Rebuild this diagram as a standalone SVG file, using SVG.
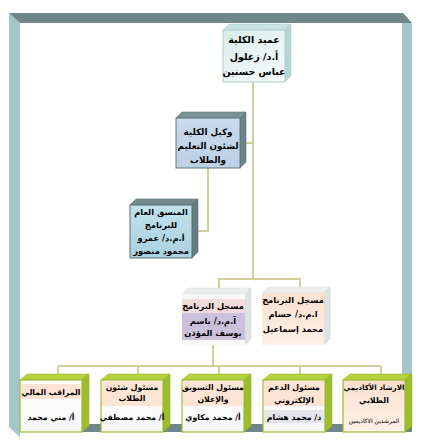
<svg xmlns="http://www.w3.org/2000/svg" width="424" height="442" viewBox="0 0 424 442">
<style>
text{font-family:"DejaVu Sans",sans-serif;font-weight:bold;fill:#000;text-anchor:middle;}
.t11{font-size:9.5px}
.t10{font-size:8.8px}
.t9{font-size:8.3px}
.t8{font-size:7.8px}
.t75{font-size:7.2px}
.t7{font-size:6px;font-weight:normal}
.con{stroke:#d3cf9c;stroke-width:2;fill:none}
.gtop{fill:#b5d23e;stroke:#9dbb2c;stroke-width:0.6}
.gside{fill:#9ebd2e;stroke:#8fae25;stroke-width:0.6}
.gfront{stroke:#9dbb2c;stroke-width:1.2}
</style>
<defs>
<linearGradient id="gDean" x1="0" y1="0" x2="1" y2="1"><stop offset="0" stop-color="#d7ecea"/><stop offset="1" stop-color="#f7fbfb"/></linearGradient>
<linearGradient id="gVice" x1="0" y1="0" x2="0" y2="1"><stop offset="0" stop-color="#c9dbed"/><stop offset="1" stop-color="#bcd0e6"/></linearGradient>
<linearGradient id="gCoord" x1="0" y1="0" x2="0" y2="1"><stop offset="0" stop-color="#c1e2ec"/><stop offset="1" stop-color="#a9d0df"/></linearGradient>
<linearGradient id="gPeach" x1="0" y1="0" x2="0" y2="1"><stop offset="0" stop-color="#fbe0cf"/><stop offset="1" stop-color="#fdf0e6"/></linearGradient>
<linearGradient id="gWhite" x1="0" y1="0" x2="0" y2="1"><stop offset="0" stop-color="#ffffff"/><stop offset="1" stop-color="#f6f6f6"/></linearGradient>
</defs>

<g id="frame">
<polygon points="9,13 20,23 20,437 9,427" fill="#a5c5cd"/>
<polygon points="402,23 412,23 412,432 402,432" fill="#a5c5cd"/>
<polygon points="20,424 412,424 412,432 20,432" fill="#6f878b"/>
<polygon points="9,13 403,13 412,23 20,23" fill="#6f878b"/>
</g>

<g id="connectors">
<line class="con" x1="253" y1="82" x2="253" y2="279"/>
<line class="con" x1="246" y1="143" x2="253" y2="143"/>
<polyline class="con" points="208,168 208,231 198,231"/>
<polyline class="con" points="219,288 219,279 300,279 300,287"/>
<line class="con" x1="213" y1="345" x2="213" y2="366"/>
<line class="con" x1="58" y1="366" x2="381" y2="366"/>
<line class="con" x1="58" y1="366" x2="58" y2="375"/>
<line class="con" x1="138" y1="366" x2="138" y2="375"/>
<line class="con" x1="219" y1="366" x2="219" y2="375"/>
<line class="con" x1="300" y1="366" x2="300" y2="375"/>
<line class="con" x1="381" y1="366" x2="381" y2="375"/>
</g>

<g id="dean">
<polygon points="223,30 229,24 291,24 285,30" fill="#c7e2df" stroke="#a9cfcb" stroke-width="0.6"/>
<polygon points="285,30 291,24 291,76 285,82" fill="#b4d5d2" stroke="#a9cfcb" stroke-width="0.6"/>
<rect x="223" y="30" width="62" height="52" fill="url(#gDean)" stroke="#a9cfcb" stroke-width="1"/>
<text class="t11" x="254" y="43">عميد الكلية</text>
<text class="t11" x="254" y="60">أ.د/ زغلول</text>
<text class="t11" x="254" y="75">عباس حسنين</text>
</g>

<g id="vicedean">
<polygon points="176,118 182,112 246,112 240,118" fill="#7a9397" stroke="#5f777b" stroke-width="0.6"/>
<polygon points="240,118 246,112 246,162 240,168" fill="#6c8488" stroke="#5f777b" stroke-width="0.6"/>
<rect x="176" y="118" width="64" height="50" fill="url(#gVice)" stroke="#5f777b" stroke-width="1"/>
<text class="t10" x="208" y="135">وكيل الكلية</text>
<text class="t10" x="208" y="149">لشئون التعليم</text>
<text class="t10" x="208" y="163">والطلاب</text>
</g>

<g id="coordinator">
<polygon points="130,205 136,199 198,199 192,205" fill="#73898d" stroke="#5b7175" stroke-width="0.6"/>
<polygon points="192,205 198,199 198,252 192,258" fill="#647b7f" stroke="#5b7175" stroke-width="0.6"/>
<rect x="130" y="205" width="62" height="53" fill="url(#gCoord)" stroke="#5b7175" stroke-width="1"/>
<text class="t9" x="161" y="215">المنسق العام</text>
<text class="t9" x="161" y="228">للبرنامج</text>
<text class="t9" x="161" y="241">أ.م.د/ عمرو</text>
<text class="t9" x="161" y="254">محمود منصور</text>
</g>

<g id="registrar1">
<polygon points="182,294 188,288 251,288 245,294" fill="#eceeee" stroke="#dfe2e2" stroke-width="0.6"/>
<polygon points="245,294 251,288 251,339 245,345" fill="#dfe2e2" stroke="#d5d8d8" stroke-width="0.6"/>
<rect x="182" y="294" width="63" height="51" fill="#f8f8f8"/>
<rect x="182" y="299" width="63" height="14" fill="#f2dcdb"/>
<rect x="182" y="313" width="63" height="27" fill="#ccc1da"/>
<text class="t9" x="213" y="309">مسجل البرنامج</text>
<text class="t9" x="213" y="324">آ.م.د/ باسم</text>
<text class="t9" x="213" y="336">يوسف المؤذن</text>
</g>

<g id="registrar2">
<polygon points="262,293 268,287 330,287 324,293" fill="#eceeee" stroke="#dfe2e2" stroke-width="0.6"/>
<polygon points="324,293 330,287 330,339 324,345" fill="#e0e2e2" stroke="#d5d8d8" stroke-width="0.6"/>
<rect x="262" y="293" width="62" height="52" fill="url(#gPeach)"/>
<text class="t9" x="293" y="303">مسجل البرنامج</text>
<text class="t9" x="293" y="317">ا.م.د/ حسام</text>
<text class="t9" x="293" y="332">محمد إسماعيل</text>
</g>

<g id="financial">
<polygon class="gtop" points="20,380 27,374 89,374 82,380"/>
<polygon class="gside" points="82,380 89,374 89,426 82,432"/>
<rect class="gfront" x="20" y="380" width="62" height="52" fill="url(#gWhite)"/>
<rect x="21" y="384" width="60" height="15" fill="#fde4d4"/>
<text class="t8" x="51" y="395">المراقب المالي</text>
<text class="t8" x="51" y="420">أ/ مني محمد</text>
</g>

<g id="students">
<polygon class="gtop" points="101,380 108,374 170,374 163,380"/>
<polygon class="gside" points="163,380 170,374 170,426 163,432"/>
<rect class="gfront" x="101" y="380" width="62" height="52" fill="url(#gWhite)"/>
<rect x="102" y="381" width="60" height="25" fill="#fde4d4"/>
<text class="t8" x="132" y="390">مسئول شئون</text>
<text class="t8" x="132" y="401">الطلاب</text>
<text class="t8" x="132" y="420">أ/ محمد مصطفي</text>
</g>

<g id="marketing">
<polygon class="gtop" points="182,380 189,374 251,374 244,380"/>
<polygon class="gside" points="244,380 251,374 251,426 244,432"/>
<rect class="gfront" x="182" y="380" width="62" height="52" fill="url(#gWhite)"/>
<rect x="183" y="381" width="60" height="25" fill="#fde4d4"/>
<text class="t8" x="213" y="390">مسئول التسويق</text>
<text class="t8" x="213" y="402">والإعلان</text>
<text class="t8" x="213" y="420">أ/ محمد مكاوي</text>
</g>

<g id="esupport">
<polygon class="gtop" points="263,380 270,374 332,374 325,380"/>
<polygon class="gside" points="325,380 332,374 332,426 325,432"/>
<rect class="gfront" x="263" y="380" width="62" height="52" fill="url(#gWhite)"/>
<rect x="264" y="381" width="60" height="25" fill="#fde4d4"/>
<rect x="264" y="410" width="60" height="13" fill="#e4e4ea"/>
<text class="t8" x="294" y="390">مسئول الدعم</text>
<text class="t8" x="294" y="403">الإلكتروني</text>
<text class="t8" x="294" y="420">د/ محمد هشام</text>
</g>

<g id="advising">
<polygon class="gtop" points="343,380 350,374 412,374 405,380"/>
<polygon class="gside" points="405,380 412,374 412,426 405,432"/>
<rect class="gfront" x="343" y="380" width="62" height="52" fill="url(#gPeach)"/>
<text class="t75" x="374" y="390">الارشاد الأكاديمي</text>
<text class="t8" x="374" y="403">الطلابي</text>
<text class="t7" x="374" y="423">المرشدين الاكاديمين</text>
</g>
</svg>
